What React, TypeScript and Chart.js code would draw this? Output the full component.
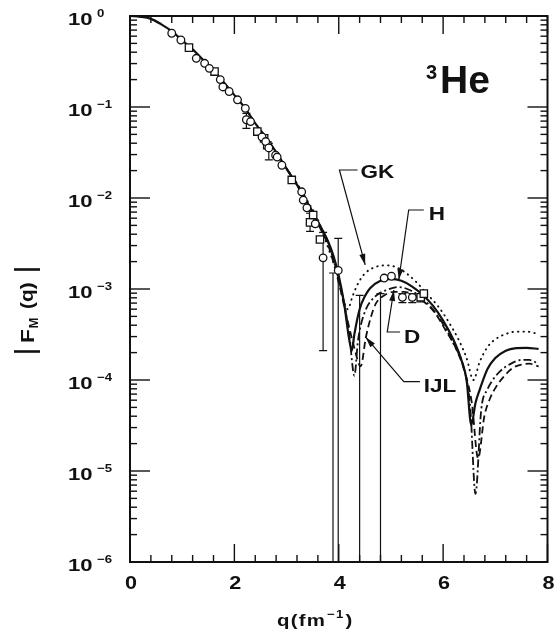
import { useEffect, useRef } from 'react';
import { Chart, registerables } from 'chart.js';

Chart.register(...registerables);

// Common low-q part of the theoretical form factors (all models agree here)
const sharedQ = [0, 0.2, 0.4, 0.6, 0.8, 1.0, 1.2, 1.4, 1.6, 1.8, 2.0, 2.2, 2.4, 2.6, 2.8, 3.0];
const sharedF = [1.0, 0.98, 0.93, 0.81, 0.68, 0.54, 0.43, 0.33, 0.25, 0.186, 0.135, 0.098, 0.066, 0.047, 0.032, 0.021];

// H (solid)
const hQ = [3.2, 3.4, 3.6, 3.8, 3.9, 4.0, 4.1, 4.2, 4.25, 4.3, 4.4, 4.5, 4.6, 4.8, 5.0, 5.2, 5.4, 5.6, 5.8, 6.0, 6.2, 6.35, 6.45, 6.54, 6.62, 6.7, 6.85, 7.0, 7.2, 7.4, 7.6, 7.83];
const hF = [0.014, 0.0089, 0.0055, 0.0033, 0.0023, 0.0014, 0.00071, 0.00028, 0.00021, 0.00032, 0.0006, 0.00083, 0.00102, 0.00123, 0.00129, 0.00123, 0.00107, 0.00087, 0.00066, 0.00045, 0.000275, 0.000166, 0.0001, 0.000032, 0.000056, 0.000078, 0.000132, 0.000174, 0.00021, 0.000224, 0.000226, 0.000219];

// GK (dotted)
const gkQ = [3.2, 3.4, 3.6, 3.8, 3.95, 4.08, 4.17, 4.27, 4.37, 4.5, 4.7, 4.9, 5.1, 5.3, 5.5, 5.7, 5.9, 6.1, 6.3, 6.45, 6.58, 6.7, 6.85, 7.0, 7.2, 7.4, 7.6, 7.83];
const gkF = [0.0145, 0.0093, 0.0058, 0.0028, 0.0016, 0.00079, 0.0006, 0.00085, 0.00115, 0.00148, 0.00174, 0.00182, 0.00174, 0.00148, 0.00117, 0.00087, 0.00065, 0.00044, 0.000275, 0.000174, 0.0001, 0.000158, 0.00023, 0.00028, 0.00032, 0.00034, 0.00034, 0.00032];

// D (dash-dot)
const dQ = [3.2, 3.4, 3.6, 3.8, 4.0, 4.1, 4.2, 4.3, 4.37, 4.49, 4.68, 4.93, 5.15, 5.4, 5.6, 5.8, 6.0, 6.2, 6.4, 6.52, 6.62, 6.73, 6.85, 6.95, 7.1, 7.27, 7.5, 7.65, 7.83];
const dF = [0.014, 0.0089, 0.0054, 0.0032, 0.00126, 0.00071, 0.00032, 0.000112, 0.000275, 0.00054, 0.00081, 0.00098, 0.00105, 0.00095, 0.00079, 0.0006, 0.00041, 0.00025, 0.000132, 0.00005, 0.0000056, 0.000047, 0.000079, 0.0001, 0.000126, 0.000148, 0.000166, 0.000166, 0.000151];

// IJL (dashed)
const ijlQ = [3.2, 3.4, 3.6, 3.8, 4.0, 4.15, 4.3, 4.42, 4.52, 4.62, 4.71, 4.87, 5.05, 5.25, 5.45, 5.65, 5.85, 6.05, 6.25, 6.42, 6.55, 6.67, 6.79, 6.9, 7.02, 7.15, 7.33, 7.5, 7.65, 7.83];
const ijlF = [0.0138, 0.0087, 0.0052, 0.003, 0.00117, 0.0005, 0.000224, 0.000141, 0.000295, 0.0005, 0.00069, 0.00085, 0.00093, 0.00093, 0.00085, 0.00071, 0.00054, 0.00035, 0.00022, 0.00012, 0.000056, 0.0000138, 0.00004, 0.000063, 0.000085, 0.000107, 0.000135, 0.000148, 0.000151, 0.000141];

// Measured |F_M(q)|, two data sets
const circleQ = [0.8, 0.975, 1.27, 1.43, 1.52, 1.73, 1.78, 1.9, 2.06, 2.21, 2.23, 2.31, 2.53, 2.6, 2.66, 2.79, 2.82, 2.91, 3.29, 3.32, 3.39, 3.55, 3.7, 3.99, 4.87, 5.01, 5.22, 5.41];
const circleF = [0.646, 0.545, 0.343, 0.302, 0.266, 0.2, 0.166, 0.148, 0.12, 0.0966, 0.0724, 0.0692, 0.0468, 0.0417, 0.0355, 0.0295, 0.0282, 0.0229, 0.0117, 0.0095, 0.0078, 0.0052, 0.0022, 0.0016, 0.00132, 0.00138, 0.00081, 0.00081];
const squareQ = [1.13, 1.62, 2.44, 2.57, 2.63, 3.1, 3.45, 3.51, 3.64, 5.57, 5.63];
const squareF = [0.449, 0.245, 0.0537, 0.0452, 0.038, 0.0158, 0.0054, 0.0065, 0.0035, 0.00081, 0.00089];

// Error bars (a low value of 0 runs off the bottom of the log axis)
const errQ = [2.23, 2.66, 3.45, 3.7, 3.89, 3.99, 4.4, 4.8, 5.22, 5.41, 5.57];
const errLow = [0.0582, 0.0263, 0.0043, 0.00021, 0, 0, 0, 0, 0.00071, 0.00071, 0.00072];
const errHigh = [0.085, 0.0398, 0.0068, 0.0042, 0.0015, 0.0036, 0.00085, 0.00089, 0.00089, 0.00089, 0.00088];

// Axis ticks
const xMajorTicks = [0, 2, 4, 6, 8];
const xTickLabels = ['0', '2', '4', '6', '8'];
const xMinorTicks = [0.4, 0.8, 1.2, 1.6, 2.4, 2.8, 3.2, 3.6, 4.4, 4.8, 5.2, 5.6, 6.4, 6.8, 7.2, 7.6];
const yDecades = [1, 1e-1, 1e-2, 1e-3, 1e-4, 1e-5, 1e-6];
const yExponents = ['0', '\u22121', '\u22122', '\u22123', '\u22124', '\u22125', '\u22126'];
const yMinorSteps = [2, 3, 4, 5, 6, 7, 8, 9];

// Curve labels with leader lines, in data coordinates
const curveLabels = [
  { text: 'GK', q: 4.417, f: 0.0188, path: [[4.36, 0.0203], [4.013, 0.0203], [4.506, 0.00184]] },
  { text: 'H', q: 5.725, f: 0.0065, path: [[5.63, 0.00738], [5.34, 0.00738], [5.151, 0.00126]] },
  { text: 'D', q: 5.251, f: 0.00029, path: [[5.175, 0.000337], [4.929, 0.000337], [5.056, 0.000975]] },
  { text: 'IJL', q: 5.63, f: 0.0000838, path: [[5.555, 0.0000958], [5.246, 0.0000958], [4.512, 0.000297]] },
];

const FONT = '"Liberation Sans", Arial, sans-serif';
const INK = '#111';

function wideText(ctx: CanvasRenderingContext2D, text: string, x: number, y: number, px: number, sx: number, align: 'left' | 'center' | 'right' = 'left', baseline: CanvasTextBaseline = 'middle') {
  ctx.save();
  ctx.font = `bold ${px}px ${FONT}`;
  const w = ctx.measureText(text).width * sx;
  let x0 = x;
  if (align === 'center') x0 = x - w / 2;
  else if (align === 'right') x0 = x - w;
  ctx.translate(x0, y);
  ctx.scale(sx, 1);
  ctx.textAlign = 'left';
  ctx.textBaseline = baseline;
  ctx.fillStyle = INK;
  ctx.fillText(text, 0, 0);
  ctx.restore();
  return w;
}

function seg(ctx: CanvasRenderingContext2D, x1: number, y1: number, x2: number, y2: number) {
  ctx.beginPath();
  ctx.moveTo(x1, y1);
  ctx.lineTo(x2, y2);
  ctx.stroke();
}

function arrowHead(ctx: CanvasRenderingContext2D, fx: number, fy: number, tx: number, ty: number) {
  const ang = Math.atan2(ty - fy, tx - fx);
  const len = 11;
  const half = 3;
  ctx.save();
  ctx.translate(tx, ty);
  ctx.rotate(ang);
  ctx.beginPath();
  ctx.moveTo(0, 0);
  ctx.lineTo(-len, -half);
  ctx.lineTo(-len, half);
  ctx.closePath();
  ctx.fill();
  ctx.restore();
}

const decorations = {
  id: 'decorations',
  beforeDatasetsDraw(chart: any) {
    const { ctx, chartArea: a, scales } = chart;
    const x = scales.x;
    const y = scales.y;
    ctx.save();
    ctx.beginPath();
    ctx.rect(a.left, a.top, a.right - a.left, a.bottom - a.top);
    ctx.clip();
    ctx.strokeStyle = INK;
    ctx.lineWidth = 1.2;
    errQ.forEach((q, i) => {
      const px = x.getPixelForValue(q);
      const hi = y.getPixelForValue(errHigh[i]);
      const lo = errLow[i] > 0 ? y.getPixelForValue(errLow[i]) : a.bottom;
      seg(ctx, px, hi, px, lo);
      seg(ctx, px - 4, hi, px + 4, hi);
      if (errLow[i] > 0) seg(ctx, px - 4, lo, px + 4, lo);
    });
    ctx.restore();
  },
  afterDraw(chart: any) {
    const { ctx, chartArea: a, scales } = chart;
    const x = scales.x;
    const y = scales.y;
    ctx.save();
    ctx.strokeStyle = INK;
    ctx.fillStyle = INK;

    // frame
    ctx.lineWidth = 2;
    ctx.strokeRect(a.left, a.top, a.right - a.left, a.bottom - a.top);

    // inward ticks on all four sides
    ctx.lineWidth = 1.4;
    const xTick = (v: number, len: number) => {
      const px = x.getPixelForValue(v);
      seg(ctx, px, a.bottom, px, a.bottom - len);
      seg(ctx, px, a.top, px, a.top + len);
    };
    const yTick = (v: number, len: number) => {
      const py = y.getPixelForValue(v);
      seg(ctx, a.left, py, a.left + len, py);
      seg(ctx, a.right, py, a.right - len, py);
    };
    xMajorTicks.forEach((v) => xTick(v, 18));
    xMinorTicks.forEach((v) => xTick(v, 7));
    yDecades.forEach((d, i) => {
      yTick(d, 20);
      if (i > 0) yMinorSteps.forEach((m) => yTick(d * m, 7));
    });

    // tick labels
    xMajorTicks.forEach((v, i) => {
      wideText(ctx, xTickLabels[i], x.getPixelForValue(v) + 1, 584, 18, 1.2, 'center');
    });
    yDecades.forEach((d, i) => {
      const py = y.getPixelForValue(d);
      wideText(ctx, '10', 68, py + 4, 17, 1.3, 'left');
      wideText(ctx, yExponents[i], 97, py - 2, 11, 1.2, 'left');
    });

    // x-axis title q(fm^-1)
    {
      ctx.save();
      (ctx as any).letterSpacing = '1px';
      let cx = 277;
      const base = 621;
      cx += wideText(ctx, 'q(fm', cx, base, 17, 1.2, 'left');
      cx += 1;
      cx += wideText(ctx, '\u22121', cx, base - 6, 11, 1.2, 'left');
      cx += 1;
      wideText(ctx, ')', cx, base, 17, 1.2, 'left');
      ctx.restore();
    }

    // y-axis title |F_M(q)|
    {
      ctx.save();
      ctx.translate(27, 310);
      ctx.rotate(-Math.PI / 2);
      ctx.lineWidth = 2.6;
      seg(ctx, -41.5, -13, -41.5, 13);
      seg(ctx, 40.5, -13, 40.5, 13);
      let cx = -33;
      cx += wideText(ctx, 'F', cx, 2, 19, 1.2, 'left');
      wideText(ctx, 'M', cx + 0.5, 8, 12, 1.1, 'left');
      wideText(ctx, '(q)', 1, 1, 19, 1.1, 'left');
      ctx.restore();
    }

    // nucleus label
    wideText(ctx, 'He', 440, 93, 39, 1.0, 'left', 'alphabetic');
    wideText(ctx, '3', 426, 79, 20, 1.0, 'left', 'alphabetic');

    // curve labels and leader arrows
    ctx.lineWidth = 1.2;
    curveLabels.forEach((lab) => {
      wideText(ctx, lab.text, x.getPixelForValue(lab.q), y.getPixelForValue(lab.f), 18, 1.25, 'left');
      const pts = lab.path.map(([q, f]) => [x.getPixelForValue(q), y.getPixelForValue(f)]);
      ctx.beginPath();
      pts.forEach(([px, py], i) => (i === 0 ? ctx.moveTo(px, py) : ctx.lineTo(px, py)));
      ctx.stroke();
      const n = pts.length;
      arrowHead(ctx, pts[n - 2][0], pts[n - 2][1], pts[n - 1][0], pts[n - 1][1]);
    });

    ctx.restore();
  },
};

const toPoints = (qs: number[], fs: number[]) => qs.map((q, i) => ({ x: q, y: fs[i] }));

export default function App() {
  const canvasRef = useRef<HTMLCanvasElement | null>(null);

  useEffect(() => {
    const canvas = canvasRef.current;
    if (!canvas) return;
    const curve = (qs: number[], fs: number[], dash: number[], width: number, cap: CanvasLineCap = 'butt') => ({
      data: toPoints(qs, fs),
      showLine: true,
      borderColor: INK,
      borderWidth: width,
      borderDash: dash,
      borderCapStyle: cap,
      pointRadius: 0,
      cubicInterpolationMode: 'monotone' as const,
      fill: false,
      order: 2,
    });
    const chart = new Chart(canvas, {
      type: 'scatter',
      data: {
        datasets: [
          {
            data: toPoints(circleQ, circleF),
            pointStyle: 'circle',
            pointRadius: 3.8,
            pointBackgroundColor: '#fff',
            pointBorderColor: INK,
            pointBorderWidth: 1.3,
            order: 0,
          },
          {
            data: toPoints(squareQ, squareF),
            pointStyle: 'rect',
            pointRadius: 5.2,
            pointBackgroundColor: '#fff',
            pointBorderColor: INK,
            pointBorderWidth: 1.3,
            order: 0,
          },
          { ...curve(sharedQ.concat(hQ), sharedF.concat(hF), [], 2.2), order: 1 },
          curve([3.0, ...dQ], [0.021, ...dF], [8, 3, 2, 3], 1.8),
          curve([3.0, ...ijlQ], [0.021, ...ijlF], [7, 4], 1.8),
          curve([3.0, ...gkQ], [0.021, ...gkF], [0.5, 5], 1.9, 'round'),
        ],
      },
      options: {
        animation: false,
        responsive: false,
        devicePixelRatio: 1,
        events: [],
        layout: { padding: { left: 130, right: 2, top: 16, bottom: 70 } },
        plugins: { legend: { display: false }, tooltip: { enabled: false } },
        scales: {
          x: { type: 'linear', min: 0, max: 8, display: false },
          y: { type: 'logarithmic', min: 1e-6, max: 1, display: false },
        },
      },
      plugins: [decorations],
    });
    return () => chart.destroy();
  }, []);

  return (
    <div style={{ position: 'absolute', left: 0, top: 0, width: 554, height: 632, background: '#fff' }}>
      <canvas ref={canvasRef} width={554} height={632} style={{ display: 'block' }} />
    </div>
  );
}
